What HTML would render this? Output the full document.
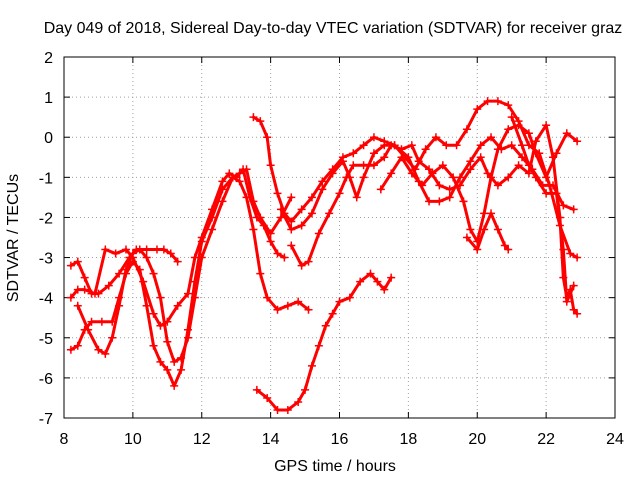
<!DOCTYPE html>
<html><head><meta charset="utf-8"><style>
body{margin:0;background:#fff;}
svg text{font-family:"Liberation Sans",sans-serif;font-size:16px;fill:#000;}
</style></head><body>
<svg id="chart" width="640" height="480" viewBox="0 0 640 480" xmlns="http://www.w3.org/2000/svg">
<rect width="640" height="480" fill="#fff"/>
<text x="333" y="33" text-anchor="middle">Day 049 of 2018, Sidereal Day-to-day VTEC variation (SDTVAR) for receiver graz</text>
<text x="335" y="471" text-anchor="middle">GPS time / hours</text>
<text transform="translate(18,238) rotate(-90)" text-anchor="middle">SDTVAR / TECUs</text>
<g id="grid"></g><g id="axes"></g><g id="series"></g>
</svg>
<script>
const xTicks=[8,10,12,14,16,18,20,22,24];
const yTicks=[2,1,0,-1,-2,-3,-4,-5,-6,-7];
const s1=[[8.2,-3.2],[8.4,-3.1],[8.6,-3.5],[8.8,-3.9],[9.0,-3.9],[9.3,-3.7],[9.6,-3.4],[9.9,-3.0],[10.1,-2.8],[10.4,-2.8],[10.7,-2.8],[10.9,-2.8],[11.1,-2.9],[11.3,-3.1]];
const s2=[[8.2,-4.0],[8.4,-3.8],[8.6,-3.8],[8.9,-3.9],[9.2,-2.8],[9.5,-2.9],[9.8,-2.8],[10.0,-3.0],[10.3,-3.6],[10.6,-4.4],[10.8,-4.7],[11.0,-4.6],[11.3,-4.2],[11.6,-3.9],[11.8,-3.0],[12.0,-2.5],[12.3,-1.8],[12.6,-1.1],[12.8,-0.9],[13.0,-1.0],[13.2,-0.8],[13.4,-1.5],[13.6,-2.0],[13.8,-2.2],[14.0,-2.6],[14.2,-2.9],[14.4,-3.0]];
const s3=[[8.2,-5.3],[8.4,-5.2],[8.6,-4.8],[8.8,-4.6],[9.1,-4.6],[9.4,-4.6],[9.6,-4.0],[9.8,-3.4],[10.0,-3.1],[10.2,-3.3],[10.4,-4.2],[10.6,-5.2],[10.8,-5.6],[11.0,-5.8],[11.2,-6.2],[11.4,-5.8],[11.6,-4.8],[11.8,-3.6],[12.0,-2.6],[12.3,-2.0],[12.6,-1.3],[12.9,-1.0],[13.1,-1.1],[13.3,-1.5],[13.5,-2.3],[13.7,-3.4],[13.9,-4.0],[14.2,-4.3],[14.5,-4.2],[14.8,-4.1],[15.1,-4.3]];
const s4=[[8.4,-4.2],[8.7,-4.8],[9.0,-5.3],[9.2,-5.4],[9.4,-5.0],[9.6,-4.2],[9.8,-3.3],[10.0,-2.9],[10.2,-2.8],[10.4,-3.0],[10.6,-3.4],[10.8,-4.0],[11.0,-5.1],[11.2,-5.6],[11.4,-5.5],[11.6,-5.0],[11.8,-4.0],[12.0,-3.0],[12.3,-2.3],[12.6,-1.6],[12.9,-1.0],[13.1,-0.9],[13.3,-0.8],[13.5,-1.6],[13.7,-2.0],[14.0,-2.4],[14.3,-2.0],[14.6,-1.5]];
const s5=[[13.6,-6.3],[13.9,-6.5],[14.2,-6.8],[14.5,-6.8],[14.8,-6.6],[15.0,-6.3],[15.2,-5.7],[15.4,-5.2],[15.6,-4.7],[15.8,-4.4],[16.0,-4.1],[16.3,-4.0],[16.6,-3.6],[16.9,-3.4],[17.1,-3.6],[17.3,-3.8],[17.5,-3.5]];
const s6=[[13.5,0.5],[13.7,0.4],[13.9,0.0],[14.0,-0.7],[14.2,-1.4],[14.4,-1.9],[14.6,-2.1],[14.9,-1.8],[15.2,-1.5],[15.5,-1.1],[15.8,-0.8],[16.1,-0.5],[16.4,-0.4],[16.7,-0.2],[17.0,0.0],[17.3,-0.1],[17.6,-0.2],[17.9,-0.5],[18.2,-0.8],[18.5,-0.3],[18.8,0.0],[19.1,-0.2],[19.4,-0.2],[19.7,0.2],[20.0,0.7],[20.3,0.9],[20.6,0.9],[20.9,0.8],[21.2,0.4],[21.5,-0.2],[21.8,-0.4],[22.1,-1.2],[22.4,-2.2],[22.7,-2.9],[22.9,-3.0]];
const s7=[[14.3,-1.8],[14.6,-2.3],[14.9,-2.2],[15.2,-1.9],[15.5,-1.3],[15.8,-0.9],[16.1,-0.6],[16.3,-1.0],[16.5,-1.5],[16.7,-1.0],[17.0,-0.4],[17.3,-0.2],[17.6,-0.2],[18.0,-0.5],[18.3,-1.1],[18.6,-1.6],[18.9,-1.6],[19.2,-1.5],[19.5,-1.0],[19.8,-0.6],[20.1,-0.2],[20.4,0.0],[20.7,-0.3],[21.0,-0.2],[21.3,-0.5],[21.6,-0.8],[21.9,-1.2],[22.2,-1.2],[22.5,-1.7],[22.8,-1.8]];
const s8=[[14.6,-2.7],[14.9,-3.2],[15.1,-3.1],[15.4,-2.4],[15.7,-1.9],[16.0,-1.4],[16.2,-1.0],[16.4,-0.7],[16.7,-0.7],[17.0,-0.7],[17.3,-0.5],[17.5,-0.2],[17.8,-0.3],[18.1,-0.2],[18.3,-0.6],[18.6,-0.8],[18.9,-1.2],[19.2,-1.3],[19.5,-1.2],[19.8,-0.8],[20.1,-0.5],[20.3,-0.9],[20.6,-1.2],[20.9,-1.0],[21.2,-0.7],[21.5,-0.9],[21.7,-0.1],[22.0,0.3],[22.2,-0.5],[22.4,-2.0],[22.5,-3.5],[22.6,-4.0],[22.7,-3.8],[22.8,-4.3],[22.9,-4.4]];
const s9=[[17.2,-1.3],[17.5,-0.9],[17.8,-0.5],[18.1,-0.9],[18.4,-1.2],[18.7,-0.9],[19.0,-0.7],[19.3,-1.0],[19.6,-1.6],[19.8,-2.3],[20.0,-2.6],[20.2,-1.9],[20.4,-1.0],[20.6,-0.3],[20.9,0.2],[21.2,0.3],[21.5,0.1],[21.7,-0.4],[22.0,-1.0],[22.3,-0.4],[22.6,0.1],[22.9,-0.1]];
const s10=[[19.7,-2.5],[20.0,-2.8],[20.2,-2.3],[20.4,-1.9],[20.6,-2.3],[20.8,-2.7],[20.9,-2.8]];
const s11=[[21.0,0.5],[21.3,-0.2],[21.5,-0.7],[21.7,-1.0],[22.0,-1.4],[22.3,-1.4],[22.5,-2.8],[22.6,-4.1],[22.8,-3.7]];
const allSeries=[s1,s2,s3,s4,s5,s6,s7,s8,s9,s10,s11];

const L=64,R=615,T=57,B=418,NS="http://www.w3.org/2000/svg";
function xs(v){return L+(v-8)/16*(R-L);}
function ys(v){return T+(2-v)/9*(B-T);}
function mk(tag,attrs,parent){const e=document.createElementNS(NS,tag);for(const k in attrs)e.setAttribute(k,attrs[k]);parent.appendChild(e);return e;}
const grid=document.getElementById('grid'),axes=document.getElementById('axes'),ser=document.getElementById('series');
xTicks.forEach(t=>{const x=xs(t);
 if(t>8&&t<24){const g=mk('line',{x1:x,y1:T,x2:x,y2:B,stroke:'#a0a0a0','stroke-dasharray':'1,3'},grid);
 
 }
 mk('line',{x1:x,y1:B,x2:x,y2:B-6,stroke:'#000'},axes);mk('line',{x1:x,y1:T,x2:x,y2:T+6,stroke:'#000'},axes);
 const tx=mk('text',{x:x,y:B+26,'text-anchor':'middle'},axes);tx.textContent=t;
 
 });
yTicks.forEach(t=>{const y=ys(t);
 if(t<2&&t>-7){const g=mk('line',{x1:L,y1:y,x2:R,y2:y,stroke:'#a0a0a0','stroke-dasharray':'1,3'},grid);
 
 }
 mk('line',{x1:L,y1:y,x2:L+6,y2:y,stroke:'#000'},axes);mk('line',{x1:R,y1:y,x2:R-6,y2:y,stroke:'#000'},axes);
 const tx=mk('text',{x:L-11,y:y+6,'text-anchor':'end'},axes);tx.textContent=t;
 
 });
const frame=mk('rect',{x:L,y:T,width:R-L,height:B-T,fill:'none',stroke:'#000'},axes);


allSeries.forEach((s,i)=>{
 const g=mk('g',{},ser);
 
 
 mk('polyline',{points:s.map(p=>xs(p[0])+','+ys(p[1])).join(' '),fill:'none',stroke:'#ff0000','stroke-width':3,'stroke-linejoin':'round','stroke-linecap':'round'},g);
 s.forEach(p=>{const x=xs(p[0]),y=ys(p[1]);
  mk('path',{d:`M${x-4},${y}H${x+4}M${x},${y-4}V${y+4}`,stroke:'#ff0000','stroke-width':1.5},g);});
});
</script>
</body></html>
